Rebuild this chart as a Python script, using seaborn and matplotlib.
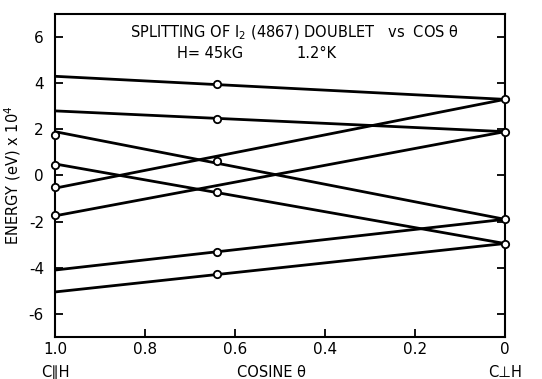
import matplotlib
matplotlib.use("Agg")
import matplotlib.pyplot as plt
import seaborn as sns
import pandas as pd

# Straight fitted lines: energy at cos=1.0 (C||H) and cos=0 (C perp H), units eV x 10^4
line_ids = [1, 2, 3, 4, 5, 6, 7, 8]
e_at_1 = [4.3, 2.8, 1.9, 0.5, -0.55, -1.75, -4.1, -5.05]
e_at_0 = [3.3, 1.9, -1.9, -2.95, 3.3, 1.9, -1.9, -2.95]

# measured points (open circles)
pt_cos = [1.0, 1.0, 1.0, 1.0,
          0.64, 0.64, 0.64, 0.64, 0.64, 0.64,
          0.0, 0.0, 0.0, 0.0]
pt_e = [1.77, 0.45, -0.52, -1.72,
        3.95, 2.47, 0.62, -0.72, -3.3, -4.28,
        3.3, 1.9, -1.9, -2.97]

y_ticks = [-6, -4, -2, 0, 2, 4, 6]
x_ticks = [1.0, 0.8, 0.6, 0.4, 0.2, 0.0]
x_tick_labels = ["1.0", "0.8", "0.6", "0.4", "0.2", "0"]

rows = []
for lid, a, b in zip(line_ids, e_at_1, e_at_0):
    rows.append({"line": lid, "cos": 1.0, "E": a})
    rows.append({"line": lid, "cos": 0.0, "E": b})
df_lines = pd.DataFrame(rows)
df_pts = pd.DataFrame({"cos": pt_cos, "E": pt_e})

sns.set_style("ticks", {"text.color": "black", "axes.labelcolor": "black",
                        "xtick.color": "black", "ytick.color": "black"})
plt.rcParams["font.family"] = ["DejaVu Sans"]

fig = plt.figure(figsize=(5.42, 3.79), dpi=100)
ax = fig.add_axes([0.1015, 0.111, 0.83, 0.852])

sns.lineplot(data=df_lines, x="cos", y="E", units="line", estimator=None,
             color="black", linewidth=2.0, ax=ax, legend=False)
sns.scatterplot(data=df_pts, x="cos", y="E", marker="o", s=28,
                facecolor="white", edgecolor="black", linewidth=1.3,
                ax=ax, zorder=5, clip_on=False, legend=False)

ax.set_xlim(1.0, 0.0)
ax.set_ylim(-7, 7)
ax.set_yticks(y_ticks)
ax.set_yticklabels([str(v) for v in y_ticks], fontsize=11)
ax.set_xticks(x_ticks)
ax.set_xticklabels(x_tick_labels, fontsize=11)
ax.tick_params(axis="both", direction="in", length=6, width=1.3,
               right=True, top=False, color="black", labelcolor="black")
ax.tick_params(axis="y", pad=8)
ax.tick_params(axis="x", pad=4)
for s in ax.spines.values():
    s.set_linewidth(1.5)
    s.set_color("black")

ax.set_xlabel("")
ax.set_ylabel("ENERGY (eV) x 10$^4$", fontsize=10.5, labelpad=4, color="black")

fig.text(0.1015, 0.018, "C\u2225H", ha="center", va="center", fontsize=10.5, color="black")
fig.text(0.5, 0.018, "COSINE \u03b8", ha="center", va="center", fontsize=10.5, color="black")
fig.text(0.932, 0.018, "C\u22a5H", ha="center", va="center", fontsize=10.5, color="black")

ax.text(0.467, 6.2, "SPLITTING OF I$_2$ (4867) DOUBLET   vs  COS \u03b8",
        ha="center", va="center", fontsize=10.5, color="black")
ax.text(0.655, 5.3, "H= 45kG", ha="center", va="center", fontsize=10.5, color="black")
ax.text(0.418, 5.3, "1.2\u00b0K", ha="center", va="center", fontsize=10.5, color="black")

fig.savefig("out.png", dpi=100, facecolor="white")
